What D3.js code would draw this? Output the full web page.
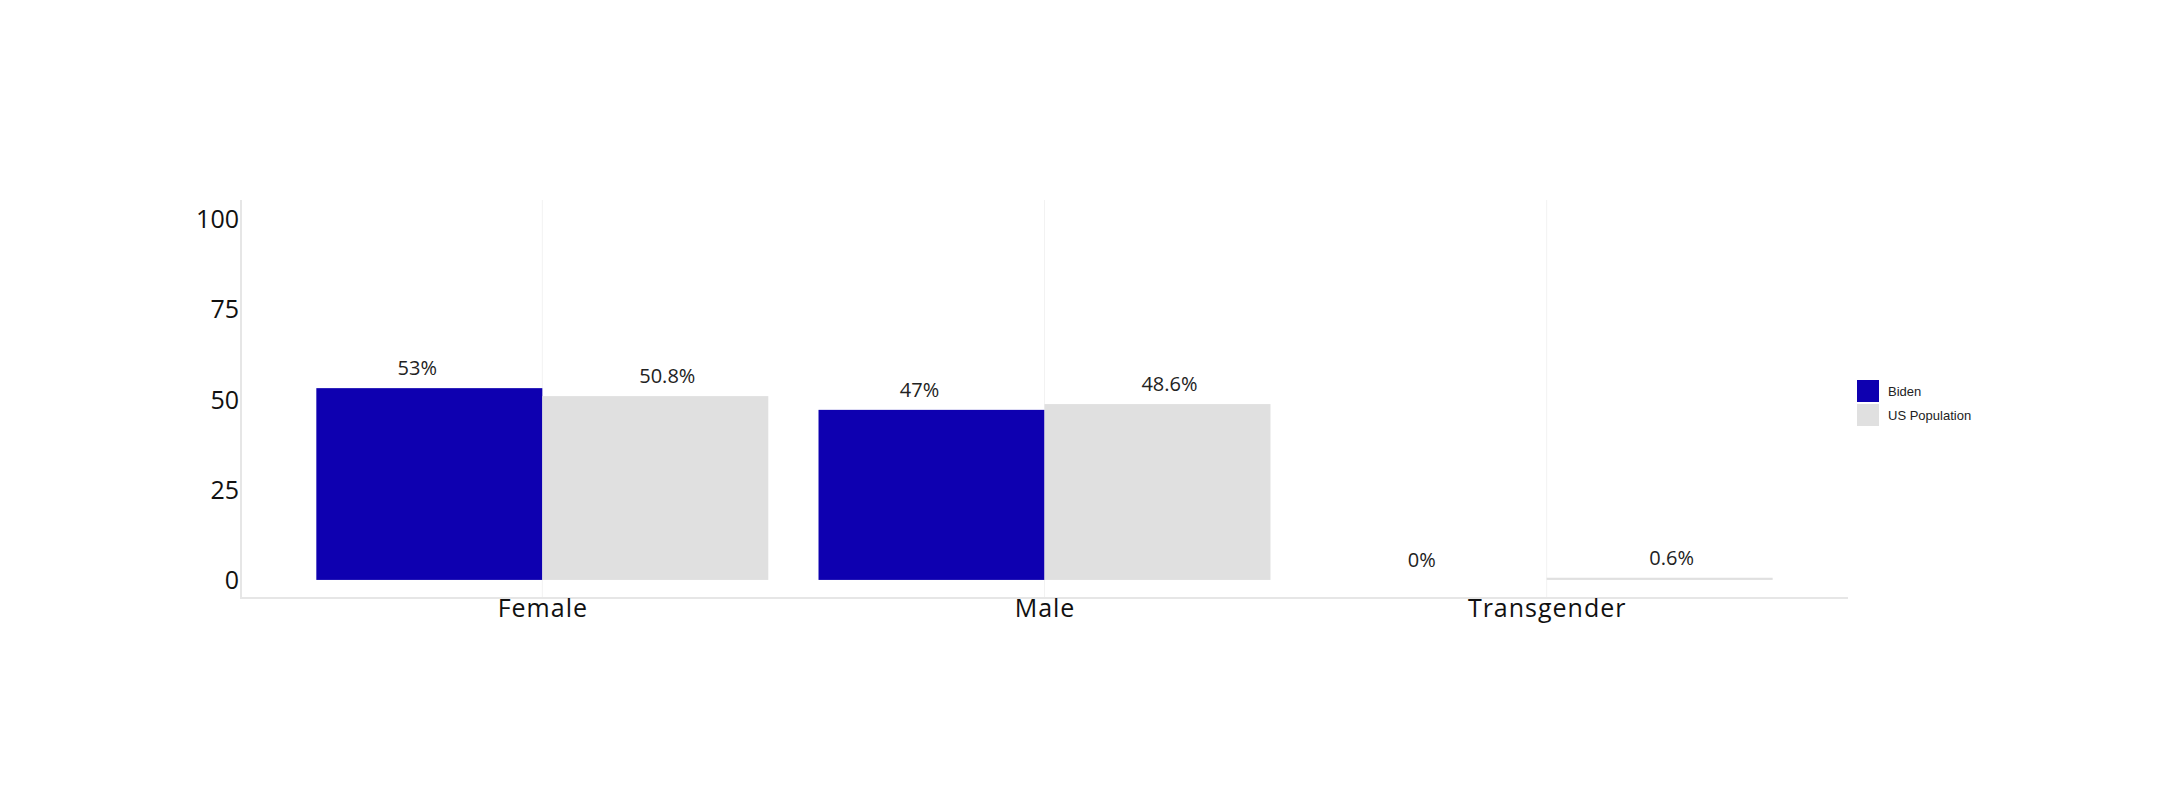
<!DOCTYPE html>
<html>
<head>
<meta charset="utf-8">
<script src="https://cdn.jsdelivr.net/npm/d3@7"></script>
<style>
  html, body { margin: 0; padding: 0; background: #fff; }
  svg { display: block; }
</style>
</head>
<body>
<svg id="chart" width="2165" height="800"></svg>
<script>
const categories = ["Female", "Male", "Transgender"];
const seriesNames = ["Biden", "US Population"];
const bidenValues = [53, 47, 0];
const usPopValues = [50.8, 48.6, 0.6];
const bidenLabels = ["53%", "47%", "0%"];
const usPopLabels = ["50.8%", "48.6%", "0.6%"];
const yTicks = [0, 25, 50, 75, 100];
const colors = ["#0e00b0", "#e0e0e0"];

(function () {
const svg = d3.select("#chart");
const pLeft = 241, pRight = 1848, pTop = 200, pBottom = 598;
const font = "'Open Sans', 'DejaVu Sans', sans-serif";

const x = d3.scalePoint().domain(categories).range([pLeft, pRight]).padding(0.6);
const step = x.step();
const groupW = step * 0.9;
const sub = d3.scaleBand().domain(seriesNames).range([-groupW / 2, groupW / 2]).padding(0);
const y = d3.scaleLinear().domain([-5, 105]).range([pBottom, pTop]);

// vertical gridlines at category centers
svg.append("g").selectAll("line").data(categories).join("line")
  .attr("x1", d => x(d)).attr("x2", d => x(d))
  .attr("y1", pTop).attr("y2", pBottom)
  .attr("stroke", "#f2f2f2").attr("stroke-width", 1);

// axes lines
svg.append("line").attr("x1", pLeft).attr("x2", pLeft).attr("y1", pTop).attr("y2", pBottom + 1)
  .attr("stroke", "#e6e6e6").attr("stroke-width", 2);
svg.append("line").attr("x1", pLeft).attr("x2", pRight).attr("y1", pBottom).attr("y2", pBottom)
  .attr("stroke", "#e6e6e6").attr("stroke-width", 2);

// y tick labels
const yAxis = d3.axisLeft(y).tickValues(yTicks).tickSize(0).tickPadding(2);
const gy = svg.append("g").attr("transform", `translate(${pLeft},0)`).call(yAxis);
gy.select(".domain").remove();
gy.selectAll("text").attr("font-family", font).attr("font-size", 25)
  .attr("fill", "#111").attr("dy", "0.36em");

// x labels
const xAxis = d3.axisBottom(x).tickSize(0).tickPadding(2);
const gx = svg.append("g").attr("transform", `translate(0,${pBottom})`).call(xAxis);
gx.select(".domain").remove();
gx.selectAll("text").attr("font-family", font).attr("font-size", 25)
  .attr("fill", "#111").attr("dy", "0.68em").style("letter-spacing", "1px");

const series = [
  { name: seriesNames[0], values: bidenValues, labels: bidenLabels, color: colors[0], off: -12 },
  { name: seriesNames[1], values: usPopValues, labels: usPopLabels, color: colors[1], off: 12 }
];

series.forEach(s => {
  const g = svg.append("g");
  g.selectAll("rect").data(categories).join("rect")
    .attr("x", (c) => x(c) + sub(s.name))
    .attr("width", sub.bandwidth())
    .attr("y", (c, i) => y(s.values[i]))
    .attr("height", (c, i) => y(0) - y(s.values[i]))
    .attr("fill", s.color);
  g.selectAll("text").data(categories).join("text")
    .attr("x", c => x(c) + sub(s.name) + sub.bandwidth() / 2 + s.off)
    .attr("y", (c, i) => y(s.values[i]) - 13)
    .attr("text-anchor", "middle")
    .attr("font-family", font).attr("font-size", 20)
    .attr("fill", "#222")
    .text((c, i) => s.labels[i]);
});

// legend
const lg = svg.append("g").attr("transform", "translate(1857,380)");
seriesNames.forEach((n, i) => {
  lg.append("rect").attr("x", 0).attr("y", i * 24).attr("width", 22).attr("height", 22).attr("fill", colors[i]);
  lg.append("text").attr("x", 31).attr("y", i * 24 + 11).attr("dy", "0.35em")
    .attr("font-family", "'Liberation Sans', Arial, sans-serif").attr("font-size", 13)
    .attr("fill", "#222").text(n);
});
})();
</script>
</body>
</html>
